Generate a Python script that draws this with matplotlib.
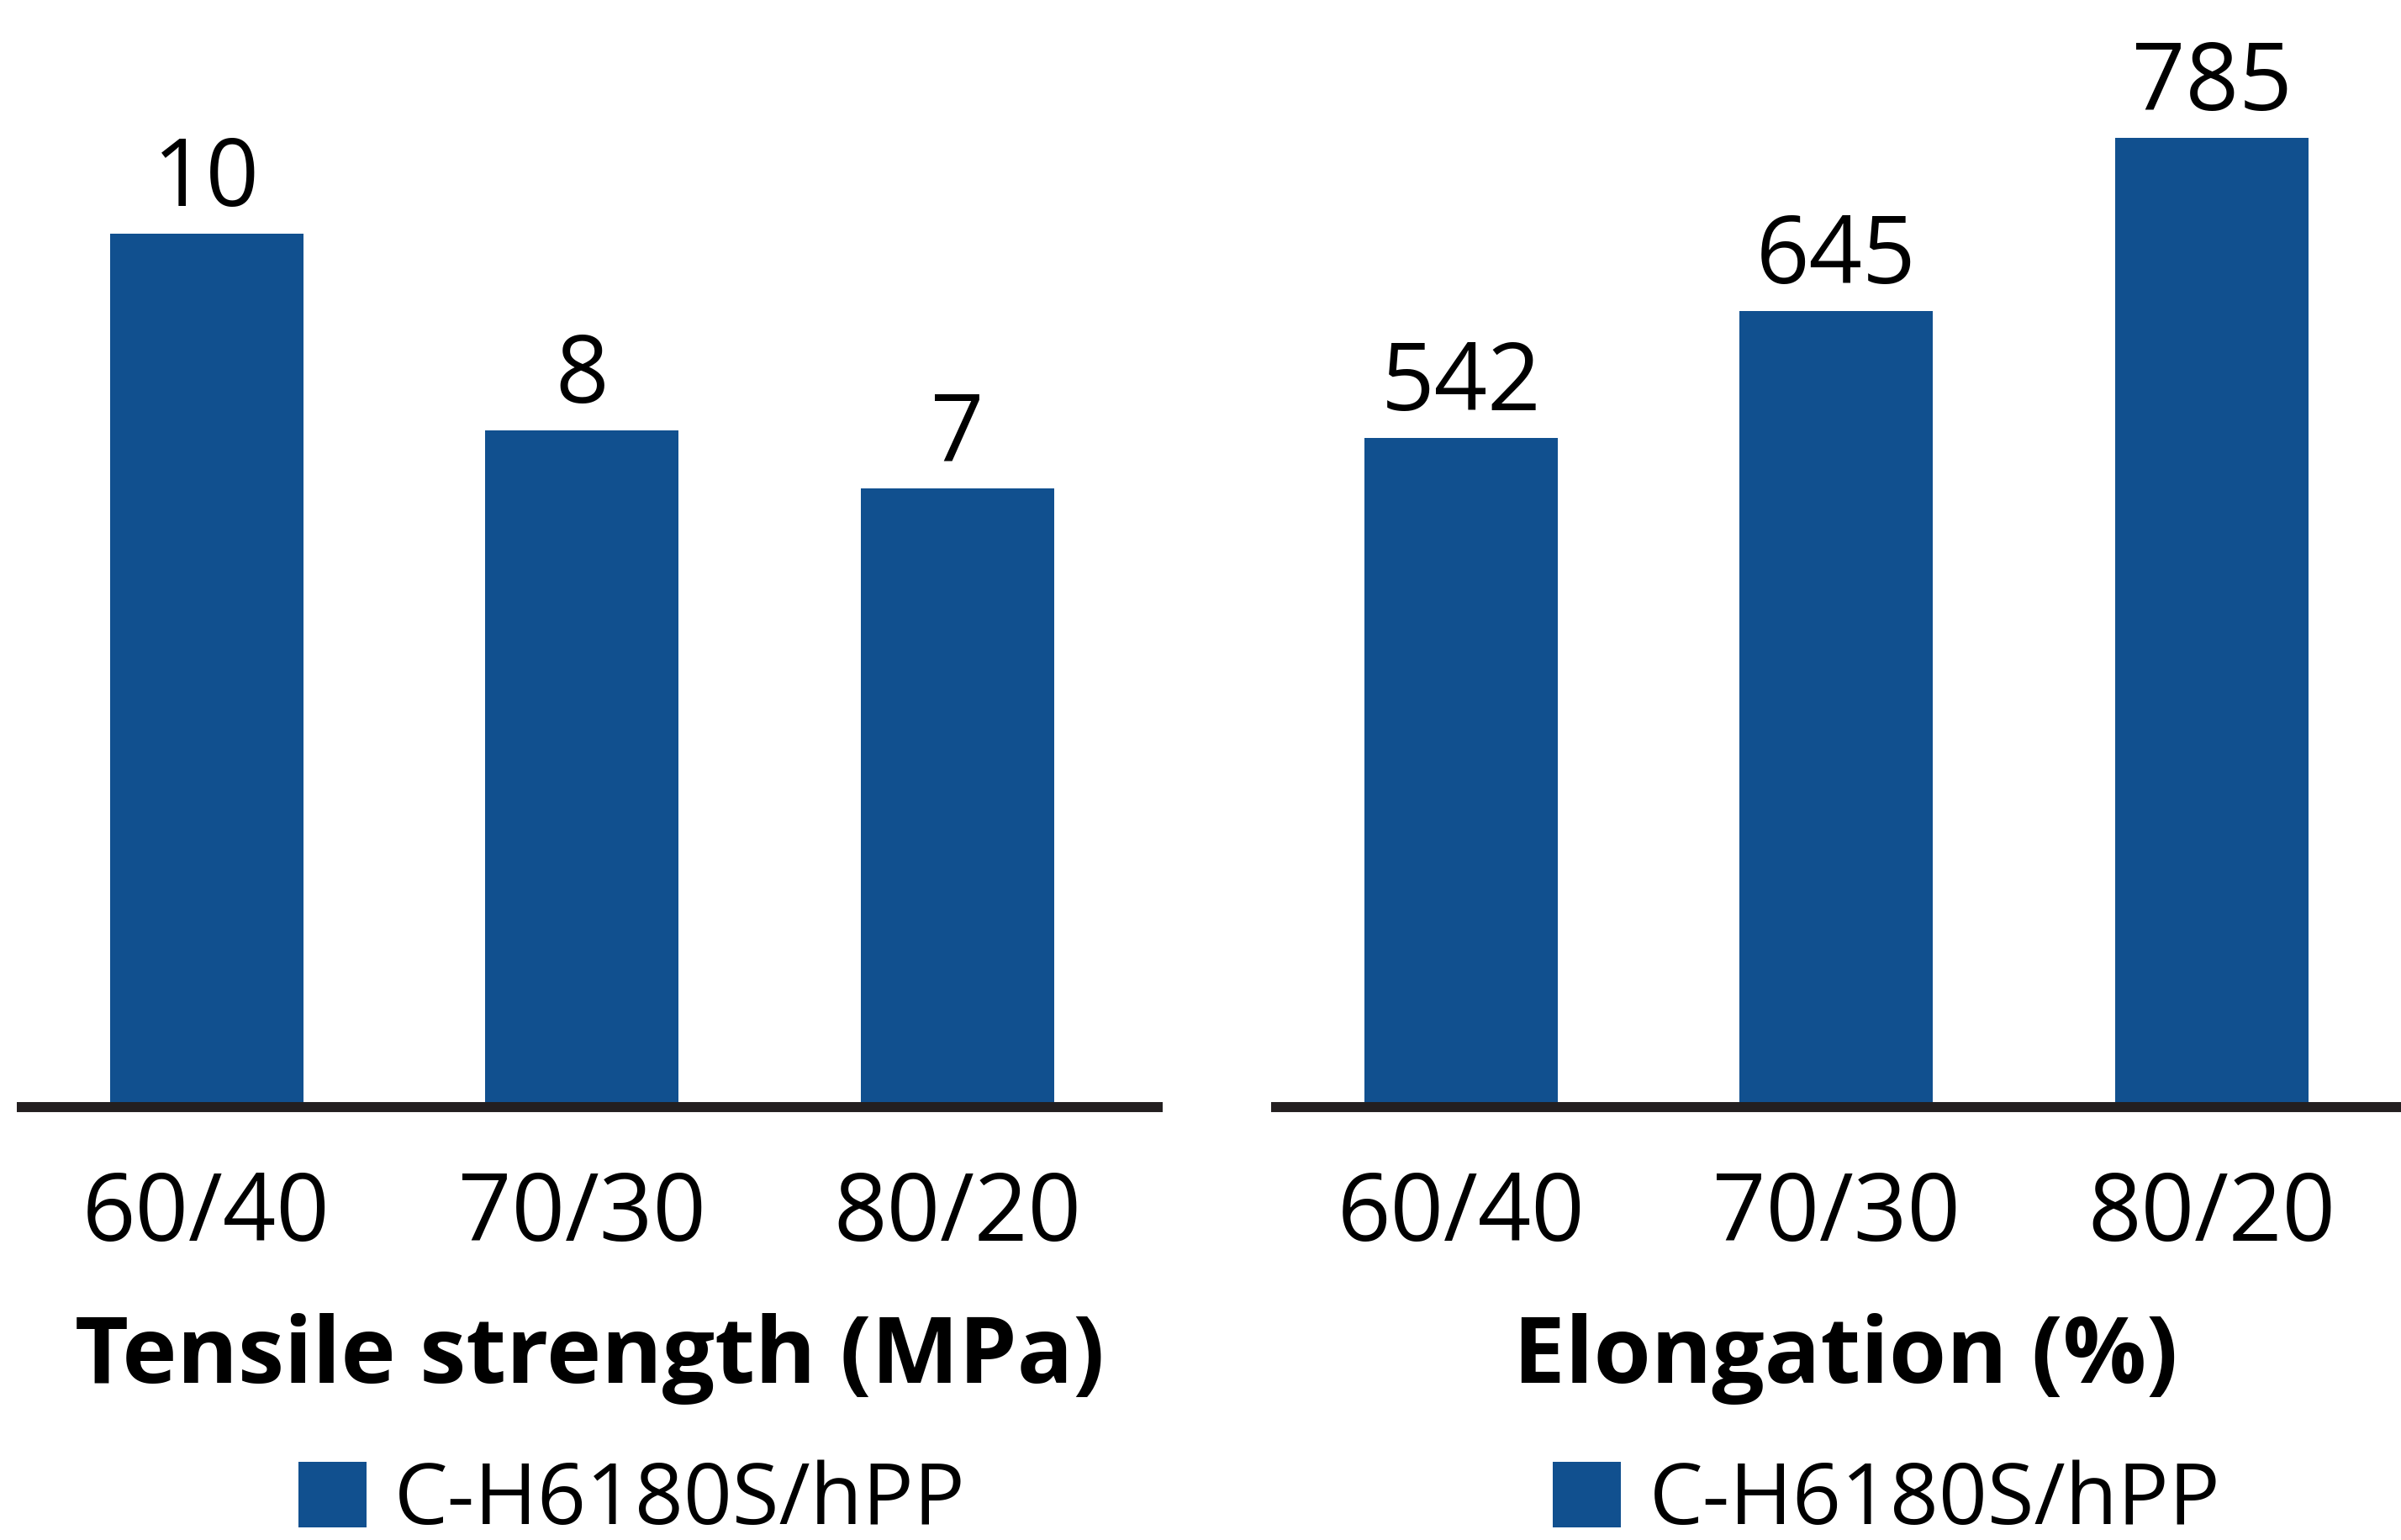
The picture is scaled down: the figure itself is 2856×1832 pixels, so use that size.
import matplotlib
matplotlib.use('Agg')
import matplotlib.pyplot as plt

plt.rcParams['font.family'] = ['Open Sans', 'DejaVu Sans']

# Data
blends = ['60/40', '70/30', '80/20']
tensile = [10.0, 7.75, 7.08]      # MPa (labels are rounded)
elongation = [542, 645, 785]      # %
series_name = 'C-H6180S/hPP'

bar_color = '#11508F'
line_color = '#231F20'

W, H = 2856, 1832
fig = plt.figure(figsize=(W / 100, H / 100), dpi=100)

base = 1317  # pixel row of the baseline, from top
ax1 = fig.add_axes([20 / W, (H - base) / H, (1383 - 20) / W, base / H])
ax2 = fig.add_axes([1512 / W, (H - base) / H, (W - 1512) / W, base / H])


def draw_panel(ax, values, title, xlim, ytop, title_x):
    x = range(len(blends))
    bars = ax.bar(x, values, width=0.515, color=bar_color, label=series_name, zorder=2)
    for xi, v in zip(x, values):
        ax.annotate(f'{v:.0f}', (xi, v), xytext=(0, 23.5), textcoords='offset points',
                    ha='center', va='baseline', fontsize=80, color='black')
    ax.set_xlim(*xlim)
    ax.set_ylim(0, ytop)
    ax.set_xticks(list(x))
    ax.set_xticklabels(blends, fontsize=80)
    ax.tick_params(axis='x', length=0, pad=53)
    ax.set_yticks([])
    for s in ['top', 'left', 'right']:
        ax.spines[s].set_visible(False)
    ax.spines['bottom'].set_linewidth(8.6)
    ax.spines['bottom'].set_color(line_color)
    ax.spines['bottom'].set_capstyle('butt')
    ax.spines['bottom'].set_zorder(3)
    ax.set_xlabel(title, fontsize=79.5, fontweight='bold', va='baseline')
    ax.xaxis.set_label_coords(title_x, -328 / base)
    ax.legend(handles=[bars], loc='upper center', bbox_to_anchor=(title_x + 0.037, -420 / base),
              frameon=False, fontsize=73, borderpad=0, borderaxespad=0,
              handlelength=0.8, handleheight=0.8, handletextpad=0.33)
    ax.patch.set_alpha(0)


draw_panel(ax1, tensile, 'Tensile strength (MPa)', (-0.505, 2.546), base / 103.9, 0.5)
draw_panel(ax2, elongation, 'Elongation (%)', (-0.506, 2.504), base / 1.4688, 0.508)

plt.savefig('out.png', dpi=100)
